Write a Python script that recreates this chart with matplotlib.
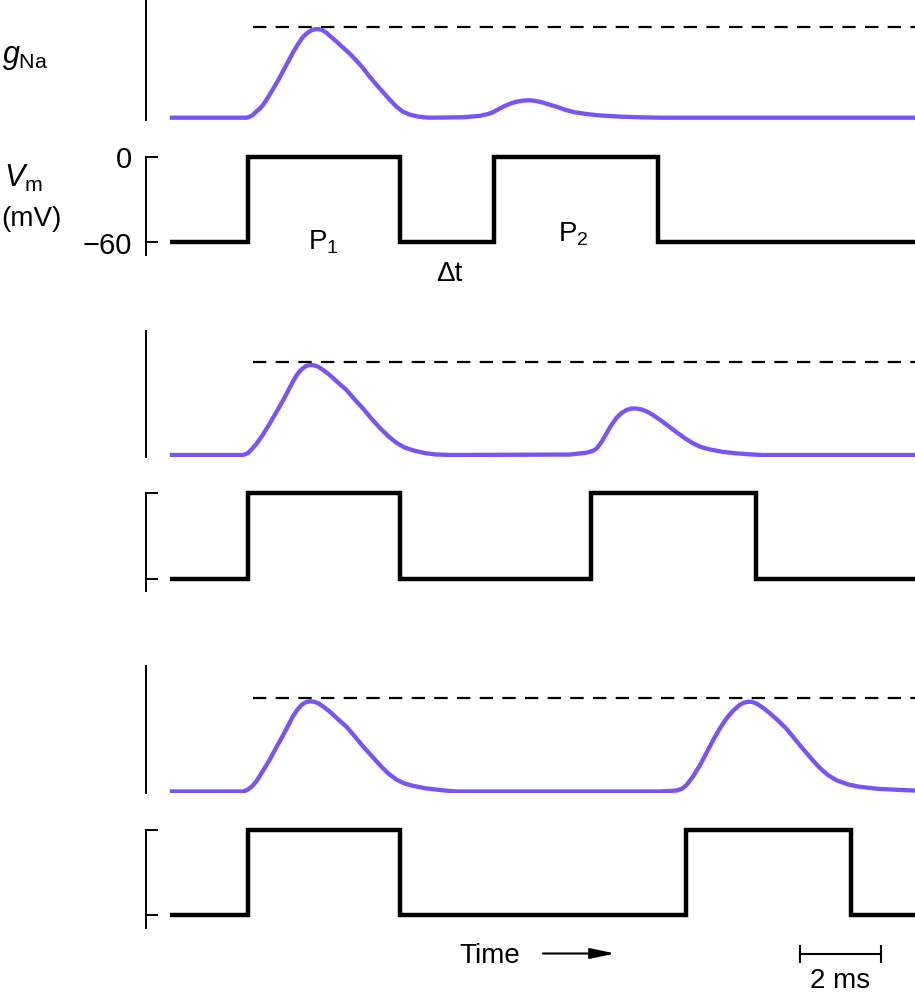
import numpy as np
import matplotlib
matplotlib.use('Agg')
import matplotlib.pyplot as plt
from matplotlib.patches import FancyArrowPatch
from matplotlib.transforms import blended_transform_factory

plt.rcParams['font.family'] = ['Liberation Sans', 'DejaVu Sans']
plt.rcParams['mathtext.fontset'] = 'custom'
plt.rcParams['mathtext.rm'] = 'Liberation Sans'
plt.rcParams['mathtext.it'] = 'Liberation Sans:italic'
plt.rcParams['mathtext.bf'] = 'Liberation Sans:bold'

W, H = 915, 998
PURPLE = '#7B53F5'

# time in ms, voltage in mV
t_end = 18.4
p1_on, p1_off = 1.93, 5.68
p2_on = [8.0, 10.4, 12.74]
p2_off = [12.05, 14.47, 16.81]
v_hold, v_step = -60, 0
vm_ticks = [0, -60]
vm_ticklabels = ['0', '\u221260']

# gNa, normalised so that the dashed reference (peak of P1) is 1
g_ref = 1.0
dash_start = 2.05

g1_t = [0, 1.89, 1.97, 2.05, 2.14, 2.22, 2.30, 2.42, 2.54, 2.67, 2.79, 2.91, 3.04, 3.16,
        3.28, 3.40, 3.51, 3.60, 3.68, 3.78, 3.88, 4.00, 4.12, 4.28, 4.44, 4.60, 4.77,
        4.94, 5.11, 5.27, 5.43, 5.59, 5.75, 5.92, 6.10, 6.26, 6.42,
        7.23, 7.65, 7.85, 7.98, 8.12, 8.27, 8.43, 8.59, 8.74, 8.89, 9.04, 9.19, 9.37,
        9.56, 9.78, 10.0, 10.3, 10.62, 11.1, 11.6, 12.1, 18.4]
g1_g = [0, 0.0, 0.01, 0.03, 0.07, 0.10, 0.14, 0.22, 0.31, 0.41, 0.51, 0.61, 0.72, 0.81,
        0.89, 0.94, 0.97, 0.98, 0.98, 0.965, 0.935, 0.887, 0.84, 0.775, 0.71, 0.635, 0.55,
        0.45, 0.36, 0.28, 0.20, 0.125, 0.068, 0.035, 0.015, 0.005, 0.0,
        0.005, 0.02, 0.04, 0.06, 0.095, 0.13, 0.16, 0.18, 0.19, 0.193, 0.185, 0.17, 0.145,
        0.12, 0.085, 0.06, 0.04, 0.025, 0.012, 0.005, 0, 0]

g2_t = [0, 1.81, 1.93, 2.04, 2.14, 2.30, 2.47, 2.63, 2.80, 2.92, 3.04, 3.15, 3.25, 3.36,
        3.46, 3.56, 3.66, 3.80, 3.95, 4.15, 4.36, 4.56, 4.77, 4.98, 5.19, 5.40, 5.60,
        5.80, 6.01, 6.30, 6.59, 7.0,
        9.88, 10.29, 10.45, 10.54, 10.66, 10.78, 10.90, 11.03, 11.15, 11.28, 11.40, 11.52,
        11.64, 11.77, 11.93, 12.10, 12.30, 12.51, 12.72, 12.92, 13.12, 13.33, 13.66,
        13.99, 14.32, 14.65, 18.4]
g2_g = [0, 0.0, 0.02, 0.07, 0.12, 0.22, 0.34, 0.46, 0.59, 0.69, 0.79, 0.87, 0.92, 0.955,
        0.97, 0.965, 0.95, 0.91, 0.86, 0.78, 0.70, 0.60, 0.50, 0.39, 0.29, 0.20, 0.13,
        0.08, 0.05, 0.02, 0.005, 0,
        0.005, 0.025, 0.045, 0.07, 0.14, 0.23, 0.32, 0.40, 0.45, 0.485, 0.50, 0.50,
        0.49, 0.47, 0.43, 0.38, 0.315, 0.245, 0.18, 0.125, 0.085, 0.06, 0.033,
        0.018, 0.007, 0, 0]

g3_t = [0, 1.81, 1.93, 2.04, 2.14, 2.30, 2.47, 2.63, 2.80, 2.92, 3.04, 3.15, 3.25, 3.36,
        3.46, 3.56, 3.66, 3.80, 3.95, 4.15, 4.36, 4.56, 4.77, 4.98, 5.19, 5.40, 5.60,
        5.80, 6.01, 6.30, 6.59, 6.85, 7.08,
        12.10, 12.51, 12.65, 12.76, 12.92, 13.09, 13.25, 13.42, 13.58, 13.75, 13.91,
        14.07, 14.18, 14.28, 14.38, 14.49, 14.65, 14.81, 15.02, 15.23, 15.43, 15.64,
        15.85, 16.05, 16.25, 16.46, 16.75, 17.04, 17.45, 17.86, 18.4]
g3_g = [0, 0.0, 0.02, 0.06, 0.11, 0.22, 0.34, 0.47, 0.60, 0.70, 0.80, 0.87, 0.92, 0.95,
        0.96, 0.955, 0.94, 0.90, 0.85, 0.77, 0.69, 0.59, 0.48, 0.38, 0.28, 0.19, 0.125,
        0.085, 0.06, 0.035, 0.02, 0.008, 0,
        0, 0.01, 0.03, 0.07, 0.16, 0.28, 0.41, 0.55, 0.67, 0.78, 0.86,
        0.92, 0.945, 0.955, 0.953, 0.935, 0.89, 0.835, 0.755, 0.665, 0.56, 0.45,
        0.345, 0.25, 0.175, 0.12, 0.075, 0.05, 0.03, 0.02, 0.01]

g_traces = [(g1_t, g1_g), (g2_t, g2_g), (g3_t, g3_g)]

scale_ms = 2
scale_start = 15.56

# layout (pixels from top-left)
x_left = 145.5
g_base_px = [117.7, 455, 791.5]
g_dash_px = [27.3, 362, 697.5]
v_zero_px = [157, 493.3, 830]
v_m60_px = [242.5, 578.5, 915]


def rect(top, bottom):
    return [x_left / W, 1 - bottom / H, (W - x_left) / W, (bottom - top) / H]


def clean(ax):
    ax.set_xlim(-0.6, t_end)
    ax.set_xticks([])
    for s in ['top', 'right', 'bottom']:
        ax.spines[s].set_visible(False)
    ax.spines['left'].set_linewidth(1.4)
    ax.patch.set_alpha(0)


fig = plt.figure(figsize=(W / 100, H / 100), dpi=100)

for i in range(3):
    # gNa trace
    unit = g_base_px[i] - g_dash_px[i]
    ax = fig.add_axes(rect(g_base_px[i] - 1.33 * unit, g_base_px[i] + 0.02 * unit))
    clean(ax)
    ax.set_ylim(-0.02, 1.33)
    ax.set_yticks([])
    t, g = g_traces[i]
    ax.plot(t, g, color=PURPLE, lw=3.1, solid_joinstyle='round', solid_capstyle='butt')
    ax.plot([dash_start, t_end], [g_ref, g_ref], color='black', lw=1.6, dashes=(6, 4.2))

    # voltage steps
    u = (v_m60_px[i] - v_zero_px[i]) / 60.0
    axv = fig.add_axes(rect(v_zero_px[i] - 3 * u, v_zero_px[i] + 70 * u))
    clean(axv)
    axv.set_ylim(-70, 3)
    axv.spines['left'].set_bounds(-69, 0)
    tt = [0, p1_on, p1_off, p2_on[i], p2_off[i], t_end]
    vv = [v_hold, v_step, v_hold, v_step, v_hold, v_hold]
    axv.plot(tt, vv, color='black', lw=3.2, drawstyle='steps-post', solid_joinstyle='miter',
             solid_capstyle='butt')
    axv.set_yticks(vm_ticks)
    axv.tick_params(axis='y', direction='in', length=8.6, width=1.4, pad=10, labelsize=21)
    if i == 0:
        axv.set_yticklabels(vm_ticklabels)
    else:
        axv.set_yticklabels([])


# labels
def ftext(x, y, s, **kw):
    fig.text(x / W, 1 - y / H, s, **kw)


ftext(2, 63, r'$g_{\rm Na}$', fontsize=22, ha='left', va='baseline')
ftext(4, 187, r'$V_{\rm m}$', fontsize=22, ha='left', va='baseline')
ftext(1, 226, '(mV)', fontsize=20, ha='left', va='baseline')
ftext(308, 250, r'P$_{\rm 1}$', fontsize=20, ha='left', va='baseline')
ftext(558, 242, r'P$_{\rm 2}$', fontsize=20, ha='left', va='baseline')
ftext(449, 281, '\u0394t', fontsize=20, ha='center', va='baseline')
ftext(459, 963, 'Time', fontsize=20, ha='left', va='baseline')
fig.add_artist(FancyArrowPatch(
    (543 / W, 1 - 953.5 / H), (615 / W, 1 - 953.5 / H), transform=fig.transFigure,
    arrowstyle='-|>,head_length=1.5,head_width=0.32', mutation_scale=10,
    color='black', lw=1.5, shrinkA=0, shrinkB=0))

# 2 ms scale bar, in data units of the bottom trace
tr = blended_transform_factory(axv.transData, fig.transFigure)
yb = 1 - 954 / H
cap = 8 / H
axv.plot([scale_start, scale_start + scale_ms], [yb, yb], color='black', lw=1.5,
         transform=tr, clip_on=False)
for xs in [scale_start, scale_start + scale_ms]:
    axv.plot([xs, xs], [yb - cap, yb + cap], color='black', lw=1.5,
             transform=tr, clip_on=False)
axv.text(scale_start + scale_ms / 2, 1 - 988 / H, '%d ms' % scale_ms, transform=tr,
         fontsize=20, ha='center', va='baseline')

fig.savefig('out.png', dpi=100)
